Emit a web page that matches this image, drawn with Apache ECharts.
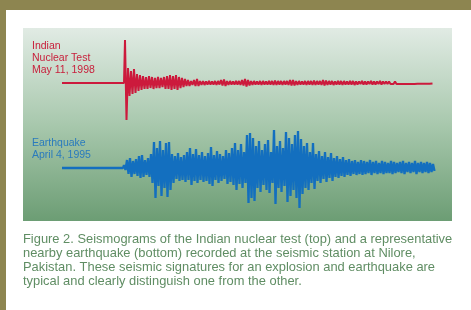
<!DOCTYPE html>
<html><head><meta charset="utf-8">
<script src="https://cdn.jsdelivr.net/npm/echarts@6/dist/echarts.min.js"></script>
<style>html,body{margin:0;padding:0;background:#fff;overflow:hidden}#c{width:471px;height:310px}</style>
</head><body><div id="c"></div>
<script>
// time axis (arbitrary record units), amplitudes
const sampleStep = 3;
const recordLength = 372;

const nuclearOnset = 63;
const nuclearUp = [43,15,12,14,9,8,7,6,7,6,5,6,5,6,7,8,7,8,6,5,4,3,2,3,4,2,2,1.5,2,1.5,2,2,3,3.5,2,2,1.5,2,2,3,4,3,2,2,1.5,2,2,1.5,2,2,2.5,2,2,2,2,3,3,2,2,1.5,2,2,2,2.5,2,2,3,2.5,2,2,1.5,2,2,2,1.5,2,2,1.5,1.5,2,1.5,1.5,2,1.5,1.5,2,1.5,1.5,1.5,1,1.5,1,1,1,1,1,1,1,1,0.8,0.8,0.8,0.5];
const nuclearDown = [37,13,11,10,8,7,6,6,5,6,5,5,4,6,6,7,6,7,5,4,3,3,2,3,3,2,2,1.5,1.5,1.5,2,1.5,2.5,3,2,1.5,1.5,1.5,2,2.5,3.5,2.5,2,1.5,1.5,2,1.5,1.5,1.5,2,2,1.5,2,1.5,2,2.5,2.5,2,1.5,1.5,2,1.5,2,2,1.5,2,2.5,2,1.5,2,1.5,1.5,2,1.5,1.5,1.5,2,1.5,1,1.5,1.5,1,1.5,1.5,1,1.5,1,1,1,1,1,1,1,1,1,1,1,0.8,0.8,0.8,0.8,0.8,0.5];

const quakeOnset = 62;
const quakeUp = [3,8,10,7,9,12,13,8,10,14,26,20,27,18,25,26,14,12,15,11,13,16,20,14,19,13,16,12,15,21,13,17,14,12,18,15,20,25,18,24,16,33,35,30,22,27,18,24,28,16,38,22,27,20,36,30,24,33,37,29,22,25,16,25,14,17,12,16,11,15,10,12,9,11,8,9,7,8,6,8,7,6,8,6,7,5,7,6,5,7,6,5,6,7,5,6,5,7,5,6,5,6,5,4];
const quakeDown = [2,6,9,6,8,10,9,7,9,15,30,18,28,20,29,22,15,11,13,12,14,12,17,13,15,12,14,13,16,18,12,15,13,11,16,14,17,22,16,20,15,35,30,33,20,24,17,22,25,15,36,20,24,18,34,28,22,30,40,26,20,22,15,21,13,15,11,14,10,13,9,10,8,9,7,8,6,7,6,7,6,5,7,5,6,5,6,5,5,6,5,4,5,6,4,5,4,6,4,5,4,5,4,3];

const nuclearLabel = ['Indian', 'Nuclear Test', 'May 11, 1998'];
const quakeLabel = ['Earthquake', 'April 4, 1995'];
const caption = [
  'Figure 2. Seismograms of the Indian nuclear test (top) and a representative',
  'nearby earthquake (bottom) recorded at the seismic station at Nilore,',
  'Pakistan. These seismic signatures for an explosion and earthquake are',
  'typical and clearly distinguish one from the other.'
];

function trace(onset, up, down) {
  const pts = [[0, 0], [onset - 1, 0]];
  const n = Math.min(up.length, down.length);
  for (let i = 0; i < n; i++) {
    const t = onset + i * sampleStep;
    pts.push([t, up[i]]);
    pts.push([t + sampleStep / 2, -down[i]]);
  }
  return pts;
}

const chart = echarts.init(document.getElementById('c'), null, {renderer: 'canvas'});
const labelFont = 'Liberation Sans, Arial, sans-serif';
const graphics = [
  {type: 'rect', z: -10, shape: {x: 0, y: 0, width: 471, height: 10}, style: {fill: '#8d8550'}},
  {type: 'rect', z: -10, shape: {x: 0, y: 0, width: 6, height: 310}, style: {fill: '#8d8550'}},
  {type: 'rect', z: -10, shape: {x: 23, y: 28, width: 429, height: 193},
    style: {fill: new echarts.graphic.LinearGradient(0, 0, 0, 1, [
      {offset: 0, color: '#e1ebe4'}, {offset: 0.5, color: '#a8c8ad'}, {offset: 1, color: '#6c9d74'}])}}
];
nuclearLabel.forEach((s, i) => graphics.push({type: 'text', z: 10, x: 32, y: 46 + i * 12,
  style: {text: s, fill: '#c8203c', font: '10.5px ' + labelFont, textVerticalAlign: 'middle'}}));
quakeLabel.forEach((s, i) => graphics.push({type: 'text', z: 10, x: 32, y: 143 + i * 12,
  style: {text: s, fill: '#2a7bbd', font: '10.5px ' + labelFont, textVerticalAlign: 'middle'}}));
caption.forEach((s, i) => graphics.push({type: 'text', z: 10, x: 23, y: 239 + i * 14,
  style: {text: s, fill: '#5f8d63', font: '12.9px ' + labelFont, textVerticalAlign: 'middle'}}));

const axisOff = {show: false};
chart.setOption({
  backgroundColor: '#ffffff',
  animation: false,
  graphic: graphics,
  grid: [
    {left: 62, top: 33, width: recordLength, height: 100},
    {left: 62, top: 118, width: recordLength, height: 100}
  ],
  xAxis: [
    {type: 'value', gridIndex: 0, min: 0, max: recordLength, show: false, splitLine: axisOff},
    {type: 'value', gridIndex: 1, min: 0, max: recordLength, show: false, splitLine: axisOff}
  ],
  yAxis: [
    {type: 'value', gridIndex: 0, min: -50, max: 50, show: false, splitLine: axisOff},
    {type: 'value', gridIndex: 1, min: -50, max: 50, show: false, splitLine: axisOff}
  ],
  series: [
    {name: 'Indian Nuclear Test', type: 'line', xAxisIndex: 0, yAxisIndex: 0, showSymbol: false,
      data: trace(nuclearOnset, nuclearUp, nuclearDown),
      lineStyle: {color: '#cc1a3c', width: 2, join: 'bevel'},
      areaStyle: {color: '#cc1a3c', opacity: 1, origin: 0}},
    {name: 'Earthquake', type: 'line', xAxisIndex: 1, yAxisIndex: 1, showSymbol: false,
      data: trace(quakeOnset, quakeUp, quakeDown),
      lineStyle: {color: '#136fbf', width: 2.3, join: 'bevel'},
      areaStyle: {color: '#136fbf', opacity: 1, origin: 0}}
  ]
});
</script></body></html>
